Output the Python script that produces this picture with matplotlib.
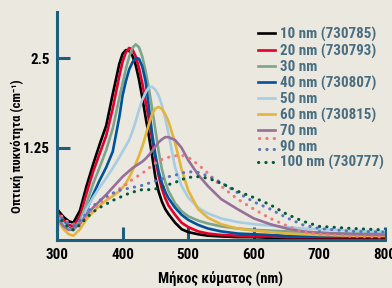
import matplotlib
matplotlib.use("Agg")
import matplotlib.pyplot as plt
from matplotlib.legend_handler import HandlerBase
from matplotlib.lines import Line2D

# Μήκος κύματος (nm)
wl = [300, 310, 318, 325, 335, 345, 355, 365, 375, 385, 395, 400, 405, 410, 415, 420,
      425, 430, 435, 440, 445, 450, 455, 460, 465, 470, 480, 490, 500, 515, 530, 550,
      575, 600, 625, 650, 675, 700, 750, 800]

nm10 = [0.40, 0.29, 0.23, 0.21, 0.38, 0.72, 1.02, 1.30, 1.56, 2.00, 2.42, 2.56, 2.61, 2.60,
        2.53, 2.40, 2.20, 1.95, 1.68, 1.42, 1.14, 0.84, 0.64, 0.50, 0.40, 0.33, 0.21, 0.12,
        0.08, 0.05, 0.03, 0.02, 0.01, 0.01, 0.0, 0.0, 0.0, 0.0, 0.0, 0.0]
nm20 = [0.36, 0.25, 0.18, 0.16, 0.30, 0.62, 0.92, 1.17, 1.42, 1.80, 2.25, 2.45, 2.58, 2.64,
        2.62, 2.52, 2.36, 2.15, 1.90, 1.65, 1.38, 1.10, 0.86, 0.68, 0.55, 0.45, 0.32, 0.21,
        0.15, 0.09, 0.06, 0.04, 0.03, 0.02, 0.02, 0.01, 0.01, 0.01, 0.01, 0.01]
nm30 = [0.33, 0.21, 0.14, 0.12, 0.24, 0.48, 0.75, 0.98, 1.22, 1.52, 1.95, 2.15, 2.35, 2.52,
        2.64, 2.69, 2.65, 2.52, 2.32, 2.08, 1.80, 1.50, 1.20, 0.95, 0.78, 0.65, 0.48, 0.37,
        0.30, 0.24, 0.20, 0.16, 0.13, 0.11, 0.10, 0.09, 0.08, 0.07, 0.06, 0.06]
nm40 = [0.31, 0.20, 0.13, 0.12, 0.20, 0.38, 0.60, 0.80, 0.98, 1.20, 1.68, 1.98, 2.18, 2.34,
        2.44, 2.50, 2.49, 2.38, 2.18, 1.82, 1.45, 1.15, 0.92, 0.76, 0.64, 0.55, 0.42, 0.32,
        0.25, 0.18, 0.13, 0.09, 0.06, 0.05, 0.04, 0.03, 0.03, 0.02, 0.02, 0.02]
nm50 = [0.30, 0.19, 0.12, 0.10, 0.20, 0.40, 0.56, 0.70, 0.83, 0.97, 1.12, 1.20, 1.28, 1.36,
        1.48, 1.62, 1.78, 1.92, 2.02, 2.09, 2.10, 2.06, 1.98, 1.84, 1.66, 1.45, 0.98, 0.72,
        0.56, 0.42, 0.34, 0.27, 0.22, 0.19, 0.17, 0.15, 0.13, 0.12, 0.10, 0.09]
nm60 = [0.25, 0.12, 0.05, 0.03, 0.12, 0.26, 0.36, 0.45, 0.52, 0.58, 0.65, 0.70, 0.76, 0.84,
        0.93, 1.03, 1.14, 1.27, 1.42, 1.58, 1.72, 1.80, 1.82, 1.79, 1.72, 1.62, 1.32, 0.95,
        0.66, 0.40, 0.28, 0.19, 0.13, 0.10, 0.08, 0.06, 0.05, 0.04, 0.03, 0.03]
nm70 = [0.28, 0.16, 0.11, 0.12, 0.20, 0.32, 0.42, 0.51, 0.60, 0.70, 0.80, 0.85, 0.89, 0.93,
        0.97, 1.00, 1.03, 1.06, 1.10, 1.15, 1.21, 1.27, 1.33, 1.37, 1.40, 1.40, 1.36, 1.25,
        1.08, 0.88, 0.72, 0.54, 0.40, 0.27, 0.19, 0.13, 0.09, 0.07, 0.05, 0.04]
nm80 = [0.38, 0.27, 0.21, 0.19, 0.22, 0.32, 0.40, 0.48, 0.55, 0.61, 0.68, 0.71, 0.74, 0.78,
        0.81, 0.84, 0.87, 0.90, 0.93, 0.97, 1.00, 1.04, 1.06, 1.09, 1.11, 1.12, 1.14, 1.15,
        1.12, 1.02, 0.90, 0.72, 0.54, 0.40, 0.27, 0.17, 0.08, 0.05, 0.02, 0.01]
nm90 = [0.35, 0.25, 0.19, 0.17, 0.24, 0.34, 0.44, 0.52, 0.58, 0.62, 0.66, 0.67, 0.68, 0.69,
        0.70, 0.71, 0.72, 0.73, 0.75, 0.76, 0.77, 0.79, 0.80, 0.82, 0.83, 0.85, 0.87, 0.90,
        0.92, 0.91, 0.86, 0.77, 0.63, 0.50, 0.40, 0.28, 0.18, 0.13, 0.09, 0.08]
nm100 = [0.32, 0.21, 0.14, 0.11, 0.18, 0.28, 0.36, 0.42, 0.47, 0.52, 0.56, 0.58, 0.60, 0.62,
         0.63, 0.65, 0.66, 0.67, 0.67, 0.67, 0.67, 0.68, 0.69, 0.70, 0.72, 0.74, 0.77, 0.81,
         0.84, 0.85, 0.83, 0.76, 0.65, 0.56, 0.46, 0.33, 0.23, 0.16, 0.13, 0.11]

labels = ["10 nm (730785)", "20 nm (730793)", "30 nm", "40 nm (730807)", "50 nm",
          "60 nm (730815)", "70 nm", "90 nm", "100 nm (730777)"]
xticks = [300, 400, 500, 600, 700, 800]
yticks = [1.25, 2.5]
ytick_labels = ["1.25", "2.5"]

bg = "#ebe8e0"
axis_col = "#1d5f7b"
text_col = "#4a6e80"
fam = ["Liberation Sans Narrow", "Roboto Condensed", "DejaVu Sans Condensed",
       "Open Sans Condensed", "Roboto", "DejaVu Sans"]
plt.rcParams["font.family"] = fam
plt.rcParams["font.weight"] = "bold"

fig = plt.figure(figsize=(3.92, 2.88), dpi=100, facecolor=bg)
ax = fig.add_axes([57 / 392, 48 / 288, 328 / 392, 228 / 288])
ax.set_facecolor(bg)

solid = [(nm10, "#000000"), (nm20, "#e4002b"), (nm30, "#7ba58d"), (nm40, "#00529b"),
         (nm50, "#a8cce2"), (nm60, "#e4b53a"), (nm70, "#976f99")]
lines = []
for ys, c in solid:
    l, = ax.plot(wl, ys, color=c, lw=1.9, solid_joinstyle="round")
    lines.append(l)

dot = (0, (0.1, 2.3))
dotted = []
for ys, c in [(nm80, "#f07a7a"), (nm90, "#5874c2"), (nm100, "#005a3a")]:
    l, = ax.plot(wl, ys, color=c, lw=2.2, linestyle=dot, dash_capstyle="round")
    dotted.append(l)


class StackHandler(HandlerBase):
    # two dotted entries stacked in one legend row
    def create_artists(self, legend, orig_handle, xdescent, ydescent,
                       width, height, fontsize, trans):
        yc = height / 2 - ydescent
        arts = []
        for h, off in zip(orig_handle, [5.5, -3.0]):
            a = Line2D([-xdescent + 1, -xdescent + width], [yc + off, yc + off],
                       color=h.get_color(), lw=h.get_linewidth(),
                       linestyle=dot, dash_capstyle="round", transform=trans)
            arts.append(a)
        return arts


handles = lines + [(dotted[0], dotted[1]), dotted[2]]
leg = fig.legend(handles, labels, loc="upper left",
                 bbox_to_anchor=(258 / 392, 1 - 27 / 288), frameon=False,
                 borderpad=0, borderaxespad=0, handlelength=1.15, handletextpad=0.35,
                 labelspacing=0.1, fontsize=10.8,
                 handler_map={tuple: StackHandler()})
for t in leg.get_texts():
    t.set_color(text_col)
    t.set_fontweight("bold")

ax.set_xlim(300, 800)
ax.set_ylim(-0.03, 3.14)
ax.set_xticks(xticks)
ax.set_yticks(yticks)
ax.set_yticklabels(ytick_labels)
for s in ["top", "right"]:
    ax.spines[s].set_visible(False)
for s in ["left", "bottom"]:
    ax.spines[s].set_color(axis_col)
    ax.spines[s].set_linewidth(2.2)
ax.tick_params(direction="in", length=9.5, width=2.2, color=axis_col,
               labelsize=10.8, labelcolor="black")
ax.tick_params(axis="x", pad=6)
ax.tick_params(axis="y", pad=5)
for t in ax.get_xticklabels() + ax.get_yticklabels():
    t.set_fontweight("bold")

ax.set_xlabel("Μήκος κύματος (nm)", fontsize=10.5, fontweight="bold", labelpad=7)
ax.set_ylabel("Οπτική πυκνότητα (cm⁻¹)", fontsize=9.3, fontweight="bold")
ax.yaxis.set_label_coords(-0.10, 0.41)

fig.savefig("out.png", dpi=100, facecolor=bg)
